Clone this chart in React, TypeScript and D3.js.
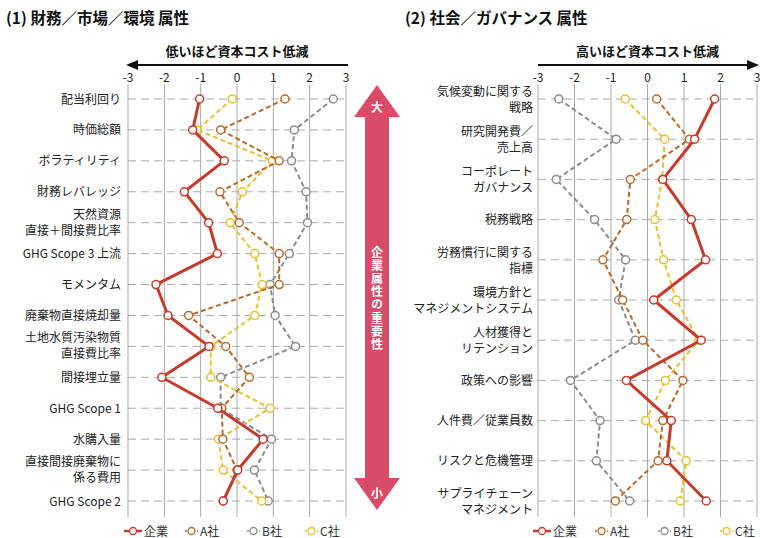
import React from "react";
import * as d3 from "d3";

const W = 760;
const H = 538;

const ticks = [-3, -2, -1, 0, 1, 2, 3];

const leftCategories = [
  "配当利回り",
  "時価総額",
  "ボラティリティ",
  "財務レバレッジ",
  "天然資源\n直接＋間接費比率",
  "GHG Scope 3 上流",
  "モメンタム",
  "廃棄物直接焼却量",
  "土地水質汚染物質\n直接費比率",
  "間接埋立量",
  "GHG Scope 1",
  "水購入量",
  "直接間接廃棄物に\n係る費用",
  "GHG Scope 2",
];
const leftKigyo = [-1.03, -1.22, -0.35, -1.45, -0.78, -0.54, -2.23, -1.9, -0.77, -2.07, -0.53, 0.72, 0.02, -0.38];
const leftA = [1.32, -0.45, 1.16, -0.47, 0.06, 1.16, 1.16, -1.33, -0.31, 0.34, -0.42, -0.39, 0.0, -0.38];
const leftB = [2.65, 1.58, 1.5, 1.9, 1.94, 1.44, 0.91, 1.05, 1.61, -0.45, -0.45, 0.95, 0.48, 0.86];
const leftC = [-0.13, -1.1, 0.98, 0.15, -0.19, 0.49, 0.69, 0.49, -0.72, -0.72, 0.91, -0.51, -0.38, 0.68];

const rightCategories = [
  "気候変動に関する\n戦略",
  "研究開発費／\n売上高",
  "コーポレート\nガバナンス",
  "税務戦略",
  "労務慣行に関する\n指標",
  "環境方針と\nマネジメントシステム",
  "人材獲得と\nリテンション",
  "政策への影響",
  "人件費／従業員数",
  "リスクと危機管理",
  "サプライチェーン\nマネジメント",
];
const rightKigyo = [1.84, 1.29, 0.42, 1.2, 1.59, 0.17, 1.47, -0.58, 0.65, 0.53, 1.61];
const rightA = [0.25, 1.15, -0.47, -0.57, -1.22, -0.68, -0.13, 0.97, 0.42, 0.29, -0.88];
const rightB = [-2.43, -0.86, -2.5, -1.45, -0.6, -0.79, -0.33, -2.11, -1.3, -1.4, -0.49];
const rightC = [-0.61, 0.47, 0.4, 0.2, 0.44, 0.79, 1.4, 0.49, -0.05, 1.06, 0.9];

const seriesNames = ["企業", "A社", "B社", "C社"];

const FONT = "'Noto Sans CJK JP', 'Noto Sans', sans-serif";
const COLORS: Record<string, string> = {
  企業: "#c73a2c",
  A社: "#b8692c",
  B社: "#8c8c8c",
  C社: "#e6c02e",
};
const GRID = "#a9a9a9";
const ARROW = "#d94c68";

type PanelProps = {
  cats: string[];
  series: { name: string; values: number[] }[];
  x0: number;
  x1: number;
  labelX: number;
  header: string;
  dir: "left" | "right";
  legendX: number[];
  lineOffsets: [number, number];
};

function Panel({ cats, series, x0, x1, labelX, header, dir, legendX, lineOffsets }: PanelProps) {
  const x = d3.scaleLinear().domain([-3, 3]).range([x0, x1]);
  const y = d3.scalePoint<string>().domain(cats).range([99, 501]);
  const gridTop = 84;
  const gridBottom = 517;
  const line = d3
    .line<number>()
    .x((d) => x(d))
    .y((_, i) => y(cats[i]) as number);
  const order = ["B社", "C社", "A社", "企業"];
  const sorted = order.map((n) => series.find((s) => s.name === n)!);
  const cx = (x0 + x1) / 2;
  const arrowY = 65;
  return (
    <g>
      <text x={cx} y={56} textAnchor="middle" fontSize={13} fontWeight="bold" fontFamily={FONT} fill="#111">
        {header}
      </text>
      <line
        x1={dir === "left" ? x0 + 8 : x0}
        x2={dir === "left" ? x1 + 2 : x1 - 8}
        y1={arrowY}
        y2={arrowY}
        stroke="#111"
        strokeWidth={2}
      />
      {dir === "left" ? (
        <path d={`M${x0 - 2},${arrowY} L${x0 + 10},${arrowY - 5} L${x0 + 10},${arrowY + 5} Z`} fill="#111" />
      ) : (
        <path d={`M${x1 + 2},${arrowY} L${x1 - 10},${arrowY - 5} L${x1 - 10},${arrowY + 5} Z`} fill="#111" />
      )}
      {ticks.map((t) => (
        <text key={t} x={x(t)} y={82} textAnchor="middle" fontSize={12} fontFamily={FONT} fill="#222">
          {t}
        </text>
      ))}
      {ticks.map((t) => (
        <line key={"g" + t} x1={x(t)} x2={x(t)} y1={gridTop} y2={gridBottom} stroke={GRID} strokeWidth={1} />
      ))}
      {cats.map((c) => (
        <line
          key={"h" + c}
          x1={x0}
          x2={x1}
          y1={y(c)}
          y2={y(c)}
          stroke={GRID}
          strokeWidth={1}
          strokeDasharray="8,5"
        />
      ))}
      {cats.map((c) => {
        const parts = c.split("\n");
        const yy = y(c) as number;
        if (parts.length === 1) {
          return (
            <text key={"l" + c} x={labelX} y={yy + 4.5} textAnchor="end" fontSize={12} fontFamily={FONT} fill="#222">
              {c}
            </text>
          );
        }
        return (
          <g key={"l" + c}>
            <text x={labelX} y={yy + lineOffsets[0]} textAnchor="end" fontSize={12} fontFamily={FONT} fill="#222">
              {parts[0]}
            </text>
            <text x={labelX} y={yy + lineOffsets[1]} textAnchor="end" fontSize={12} fontFamily={FONT} fill="#222">
              {parts[1]}
            </text>
          </g>
        );
      })}
      {sorted.map((s) => (
        <g key={s.name}>
          <path
            d={line(s.values) || ""}
            fill="none"
            stroke={COLORS[s.name]}
            strokeWidth={s.name === "企業" ? 3 : 2}
            strokeDasharray={s.name === "企業" ? undefined : "5,3"}
            strokeLinejoin="round"
          />
          {s.values.map((v, i) => (
            <circle
              key={i}
              cx={x(v)}
              cy={y(cats[i])}
              r={4}
              fill="#fff"
              stroke={COLORS[s.name]}
              strokeWidth={1.5}
            />
          ))}
        </g>
      ))}
      {seriesNames.map((n, i) => {
        const lx = legendX[i];
        const ly = 531;
        const isK = n === "企業";
        const len = isK ? 18 : 13;
        return (
          <g key={"lg" + n}>
            <line
              x1={lx}
              x2={lx + len}
              y1={ly}
              y2={ly}
              stroke={COLORS[n]}
              strokeWidth={isK ? 2.5 : 1.5}
              strokeDasharray={isK ? undefined : "2,2"}
            />
            <circle cx={lx + len / 2} cy={ly} r={3.5} fill="#fff" stroke={COLORS[n]} strokeWidth={1.3} />
            <text x={lx + len + 2} y={ly + 4.5} fontSize={12} fontFamily={FONT} fill="#333">
              {n}
            </text>
          </g>
        );
      })}
    </g>
  );
}

function BigArrow() {
  const cx = 377;
  const top = 85;
  const bot = 510;
  const headH = 32;
  const headW = 46;
  const shaftW = 24;
  const p = [
    [cx, top],
    [cx + headW / 2, top + headH],
    [cx + shaftW / 2, top + headH],
    [cx + shaftW / 2, bot - headH],
    [cx + headW / 2, bot - headH],
    [cx, bot],
    [cx - headW / 2, bot - headH],
    [cx - shaftW / 2, bot - headH],
    [cx - shaftW / 2, top + headH],
    [cx - headW / 2, top + headH],
  ];
  return (
    <g>
      <path d={"M" + p.map((q) => q.join(",")).join("L") + "Z"} fill={ARROW} />
      <text x={cx} y={112} textAnchor="middle" fontSize={12} fontWeight="bold" fontFamily={FONT} fill="#fff">
        大
      </text>
      <text
        x={cx}
        y={246}
        fontSize={12}
        fontWeight="bold"
        fontFamily={FONT}
        fill="#fff"
        letterSpacing={1.2}
        style={{ writingMode: "vertical-rl" }}
      >
        企業属性の重要性
      </text>
      <text x={cx} y={498} textAnchor="middle" fontSize={12} fontWeight="bold" fontFamily={FONT} fill="#fff">
        小
      </text>
    </g>
  );
}

export default function App() {
  const leftSeries = [
    { name: "企業", values: leftKigyo },
    { name: "A社", values: leftA },
    { name: "B社", values: leftB },
    { name: "C社", values: leftC },
  ];
  const rightSeries = [
    { name: "企業", values: rightKigyo },
    { name: "A社", values: rightA },
    { name: "B社", values: rightB },
    { name: "C社", values: rightC },
  ];
  return (
    <svg
      width={W}
      height={H}
      viewBox={`0 0 ${W} ${H}`}
      style={{ position: "absolute", left: 0, top: 0, background: "#fff" }}
    >
      <rect x={0} y={0} width={W} height={H} fill="#fff" />
      <text x={6} y={24} fontSize={15.5} fontWeight="bold" fontFamily={FONT} fill="#111">
        (1) 財務／市場／環境 属性
      </text>
      <text x={405} y={24} fontSize={15.5} fontWeight="bold" fontFamily={FONT} fill="#111">
        (2) 社会／ガバナンス 属性
      </text>
      <Panel
        cats={leftCategories}
        series={leftSeries}
        x0={128}
        x1={346}
        labelX={121}
        header="低いほど資本コスト低減"
        dir="left"
        legendX={[124, 185, 247, 305]}
        lineOffsets={[-4, 12]}
      />
      <Panel
        cats={rightCategories}
        series={rightSeries}
        x0={538}
        x1={757}
        labelX={533}
        header="高いほど資本コスト低減"
        dir="right"
        legendX={[533, 595, 658, 720]}
        lineOffsets={[-3, 13]}
      />
      <BigArrow />
    </svg>
  );
}
